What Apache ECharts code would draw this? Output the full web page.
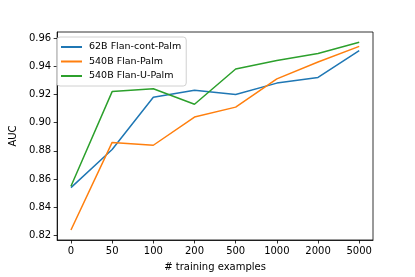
<!DOCTYPE html>
<html><head><meta charset="utf-8">
<script src="https://cdn.jsdelivr.net/npm/echarts@6/dist/echarts.min.js"></script>
<style>html,body{margin:0;padding:0;background:#fff}#c{width:415px;height:277px}</style>
</head><body><div id="c"></div>
<script>
const categories = ['0','50','100','200','500','1000','2000','5000'];
const seriesNames = ['62B Flan-cont-Palm','540B Flan-Palm','540B Flan-U-Palm'];
const blue = [0.854,0.881,0.918,0.923,0.920,0.928,0.932,0.951];
const orange = [0.824,0.886,0.884,0.904,0.911,0.931,0.943,0.954];
const green = [0.855,0.922,0.924,0.913,0.938,0.944,0.949,0.957];
const yTicks = [0.82,0.84,0.86,0.88,0.90,0.92,0.94,0.96];
const colors = ['#1f77b4','#ff7f0e','#2ca02c'];
const font = 'DejaVu Sans';
const chart = echarts.init(document.getElementById('c'), null, {renderer:'canvas'});
const idx = categories.map((_, i) => i);
function mk(name, vals, color){
  return {name, type:'line', data: vals.map((v,i)=>[i,v]), symbol:'none',
    lineStyle:{color, width:1.5}, itemStyle:{color}, animation:false};
}
chart.setOption({
  animation:false,
  grid:{left:52, top:32, width:321, height:210.5, show:true, borderColor:'#000', borderWidth:0.8, backgroundColor:'transparent'},
  legend:{left:57, top:37, orient:'vertical', itemGap:4.5, itemWidth:21, itemHeight:2, icon:'rect',
    backgroundColor:'rgba(255,255,255,0.8)', borderColor:'#d0d0d0', borderWidth:1, borderRadius:3,
    padding:[5,5,5,4], textStyle:{fontFamily:font, fontSize:9.5, color:'#000', padding:[0,0,0,2]},
    data: seriesNames},
  xAxis:{type:'value', min:-0.335, max:7.335,
    name:'# training examples', nameLocation:'middle', nameGap:22,
    nameTextStyle:{fontFamily:font, fontSize:10, color:'#000'},
    axisLine:{show:true, onZero:false, lineStyle:{color:'#000', width:0.8}}, splitLine:{show:false},
    axisTick:{show:true, length:3.5, lineStyle:{color:'#000', width:0.8}, customValues: idx},
    axisLabel:{fontFamily:font, fontSize:10, color:'#000', margin:6, customValues: idx,
      formatter: v => categories[Math.round(v)]}},
  yAxis:{type:'value', min:0.8169, max:0.9642,
    name:'AUC', nameLocation:'middle', nameGap:36, nameRotate:90,
    nameTextStyle:{fontFamily:font, fontSize:10, color:'#000'},
    axisLine:{show:true, onZero:false, lineStyle:{color:'#000', width:0.8}}, splitLine:{show:false},
    axisTick:{show:true, length:3.5, lineStyle:{color:'#000', width:0.8}, customValues: yTicks},
    axisLabel:{fontFamily:font, fontSize:10, color:'#000', margin:6, customValues: yTicks,
      formatter: v => v.toFixed(2)}},
  series:[mk(seriesNames[0], blue, colors[0]), mk(seriesNames[1], orange, colors[1]), mk(seriesNames[2], green, colors[2])]
});
</script></body></html>
